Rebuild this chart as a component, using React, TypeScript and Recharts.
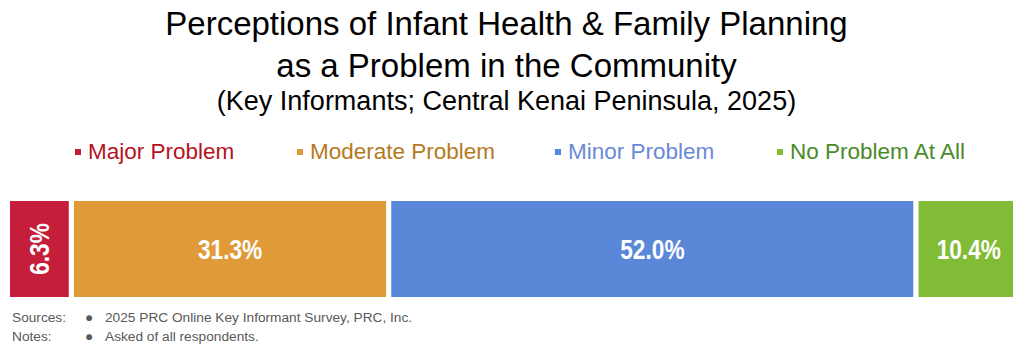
import React from "react";
import { BarChart, Bar, XAxis, YAxis, LabelList } from "recharts";

const categories = ["Central Kenai Peninsula"];
const seriesNames = ["Major Problem", "Moderate Problem", "Minor Problem", "No Problem At All"];
const seriesKeys = ["major", "moderate", "minor", "none"];
const seriesValues = [6.3, 31.3, 52.0, 10.4];
const barColors = ["#c41e3a", "#e09a37", "#5b87d8", "#80bc35"];
const textColors = ["#b5121b", "#b47a1e", "#6a89d6", "#4a8a2a"];
const sources = ["2025 PRC Online Key Informant Survey, PRC, Inc."];
const notes = ["Asked of all respondents."];

const data = categories.map((name) => {
  const row: Record<string, string | number> = { name };
  seriesKeys.forEach((k, i) => (row[k] = seriesValues[i]));
  return row;
});

const FONT = "'Liberation Sans', Arial, sans-serif";

// legend item left edges (square position)
const legendX = [75, 297, 555, 777];

function LegendRow() {
  return (
    <div style={{ position: "absolute", left: 0, top: 138, width: 1013, height: 30 }}>
      {seriesNames.map((n, i) => (
        <div
          key={n}
          style={{
            position: "absolute",
            left: legendX[i],
            top: 0,
            display: "flex",
            alignItems: "center",
            fontFamily: FONT,
            fontSize: 22.5,
            lineHeight: "28px",
            color: textColors[i],
            whiteSpace: "nowrap",
          }}
        >
          <span style={{ display: "inline-block", width: 6, height: 6, background: barColors[i], marginRight: 7 }} />
          {n}
        </div>
      ))}
    </div>
  );
}

function ValueLabel(props: any) {
  const { x, y, width, height, value } = props;
  const cx = x + width / 2;
  const cy = y + height / 2;
  const text = `${Number(value).toFixed(1)}%`;
  const rotate = width < 70;
  const tf = rotate
    ? `translate(${cx} ${cy}) rotate(-90) scale(0.81 1)`
    : `translate(${cx} ${cy}) scale(0.81 1)`;
  return (
    <text
      x={0}
      y={0}
      fill="#fff"
      fontFamily={FONT}
      fontWeight="bold"
      fontSize={28}
      textAnchor="middle"
      dominantBaseline="central"
      transform={tf}
    >
      {text}
    </text>
  );
}

export default function App() {
  return (
    <div style={{ position: "absolute", left: 0, top: 0, width: 1013, height: 346, overflow: "hidden", background: "#fff" }}>
      <div style={{ position: "absolute", left: 0, top: 4, width: 1013, textAlign: "center", fontFamily: FONT, color: "#000" }}>
        <div style={{ fontSize: 33, lineHeight: "40px" }}>Perceptions of Infant Health &amp; Family Planning</div>
        <div style={{ fontSize: 33, lineHeight: "44px" }}>as a Problem in the Community</div>
        <div style={{ fontSize: 27, lineHeight: "26px" }}>(Key Informants; Central Kenai Peninsula, 2025)</div>
      </div>
      <LegendRow />
      <div style={{ position: "absolute", left: 0, top: 0 }}>
        {/* the bar runs past the right edge of the picture, as in the source */}
        <BarChart
          width={1024}
          height={346}
          data={data}
          layout="vertical"
          barCategoryGap={0}
          margin={{ top: 198.5, right: 2.5, bottom: 46.5, left: 7.5 }}
        >
          <XAxis type="number" domain={[0, 100]} hide />
          <YAxis type="category" dataKey="name" hide />
          {seriesKeys.map((k, i) => (
            <Bar
              key={k}
              dataKey={k}
              name={seriesNames[i]}
              stackId="a"
              fill={barColors[i]}
              stroke="#fff"
              strokeWidth={5}
              isAnimationActive={false}
            >
              <LabelList dataKey={k} content={<ValueLabel />} />
            </Bar>
          ))}
        </BarChart>
      </div>
      <div style={{ position: "absolute", left: 12, top: 308, fontFamily: FONT, fontSize: 13.7, color: "#595959", lineHeight: "19px" }}>
        {[["Sources:", sources[0]], ["Notes:", notes[0]]].map(([lab, txt]) => (
          <div key={lab} style={{ position: "relative", height: 19, width: 600 }}>
            <span>{lab}</span>
            <span style={{ position: "absolute", left: 73 }}>●</span>
            <span style={{ position: "absolute", left: 93 }}>{txt}</span>
          </div>
        ))}
      </div>
    </div>
  );
}
